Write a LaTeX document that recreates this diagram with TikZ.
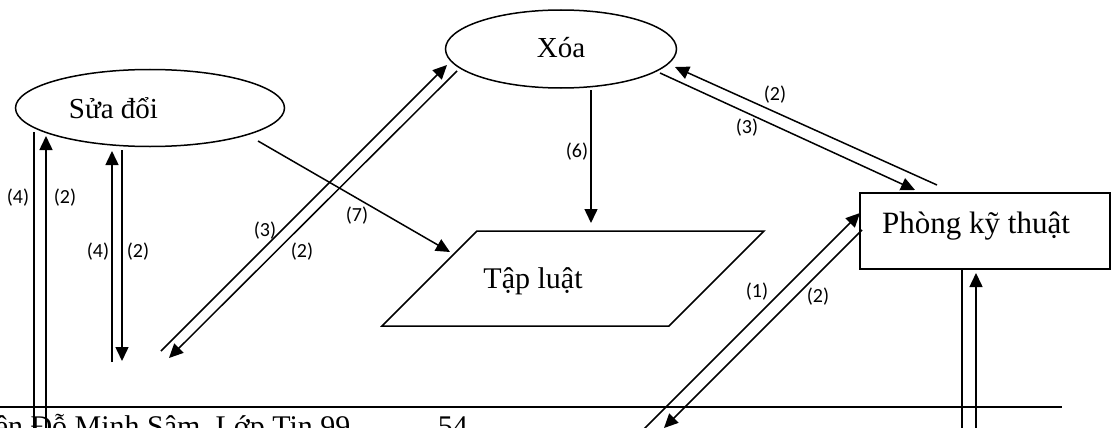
\documentclass[tikz,border=0pt]{standalone}
\usepackage{fontspec}
\setmainfont{Liberation Serif}
\newfontfamily\lblfont{Carlito}
\usetikzlibrary{shapes.geometric,arrows.meta}
\begin{document}
\begin{tikzpicture}[x=1pt,y=-1pt,
  line width=1.5pt,
  arr/.style={-{Triangle[length=14pt,width=13pt]}},
  lbl/.style={font=\lblfont\fontsize{20}{23}\selectfont, inner sep=0pt},
  txt/.style={font=\fontsize{29}{34}\selectfont, inner sep=0pt, anchor=base},
  ell/.style={draw, ellipse, inner sep=0pt}]
\useasboundingbox (0,0) rectangle (1113,428);

% shapes
\node[ell, minimum width=269pt, minimum height=77pt] (sua) at (150,108) {};
\node[txt] (suatext) at (113.5,118) {Sửa đổi};
\node[ell, minimum width=231pt, minimum height=78pt] (xoa) at (561,49) {};
\node[txt] (xoatext) at (561,58) {Xóa};
\draw (477,231) coordinate (tl1) -- (764,231) coordinate (tl2) -- (669,326) coordinate (tl3) -- (382,326) coordinate (tl4) -- cycle;
\node[txt, font=\fontsize{30}{34}\selectfont] (taptext) at (533,288) {Tập luật};
\node[draw, rectangle, minimum width=250pt, minimum height=76pt, inner sep=0pt] (phong) at (985,231) {};
\node[txt, font=\fontsize{31}{36}\selectfont] (phongtext) at (976,233) {Phòng kỹ thuật};

% endpoints
\coordinate (a1) at (34,132);   \coordinate (a2) at (34,432);
\coordinate (b1) at (46,432);   \coordinate (b2) at (46,136);
\coordinate (c1) at (112,362);  \coordinate (c2) at (112,151);
\coordinate (d1) at (122,150);  \coordinate (d2) at (122,361);
\coordinate (s7) at (258,141);  \coordinate (t7) at (450,252);
\coordinate (e1) at (161,351);  \coordinate (e2) at (447,65);
\coordinate (f1) at (457,71);   \coordinate (f2) at (169,358);
\coordinate (g6a) at (591,90);  \coordinate (g6b) at (591,223);
\coordinate (g1) at (937,185);  \coordinate (g2) at (675,67);
\coordinate (h1) at (660,73);   \coordinate (h2) at (915,190);
\coordinate (i1) at (641,432);  \coordinate (i2) at (860,213);
\coordinate (j1) at (862,230);  \coordinate (j2) at (664,428);
\coordinate (k1) at (962,269);  \coordinate (k2) at (962,432);
\coordinate (l1) at (976,432);  \coordinate (l2) at (976,273);
\coordinate (r1) at (0,407);    \coordinate (r2) at (1062,407);

% connectors
\draw (a1) -- (a2);
\draw[arr] (b1) -- (b2);
\draw[arr] (c1) -- (c2);
\draw[arr] (d1) -- (d2);
\draw[arr] (s7) -- (t7);
\draw[arr] (e1) -- (e2);
\draw[arr] (f1) -- (f2);
\draw[arr] (g6a) -- (g6b);
\draw[arr] (g1) -- (g2);
\draw[arr] (h1) -- (h2);
\draw[arr] (i1) -- (i2);
\draw[arr] (j1) -- (j2);
\draw (k1) -- (k2);
\draw[arr] (l1) -- (l2);
\draw (r1) -- (r2);

% labels
\node[lbl] (l4a) at (18,198) {(4)};
\node[lbl] (l2a) at (65,198) {(2)};
\node[lbl] (l4b) at (98,252) {(4)};
\node[lbl] (l2b) at (138,252) {(2)};
\node[lbl] (l7) at (357,216) {(7)};
\node[lbl] (l3a) at (265,231) {(3)};
\node[lbl] (l2c) at (302,252) {(2)};
\node[lbl] (l6) at (577,152) {(6)};
\node[lbl] (l2d) at (775,95) {(2)};
\node[lbl] (l3b) at (747,128) {(3)};
\node[lbl] (l1) at (757,292) {(1)};
\node[lbl] (l2e) at (818,297) {(2)};

% footer
\node[txt, anchor=base west, font=\fontsize{30}{34}\selectfont] (foot) at (-6,436) {ên Đỗ Minh Sâm, Lớp Tin 99};
\node[txt, anchor=base west, font=\fontsize{30}{34}\selectfont] (page) at (437,436) {54};
\end{tikzpicture}
\end{document}
